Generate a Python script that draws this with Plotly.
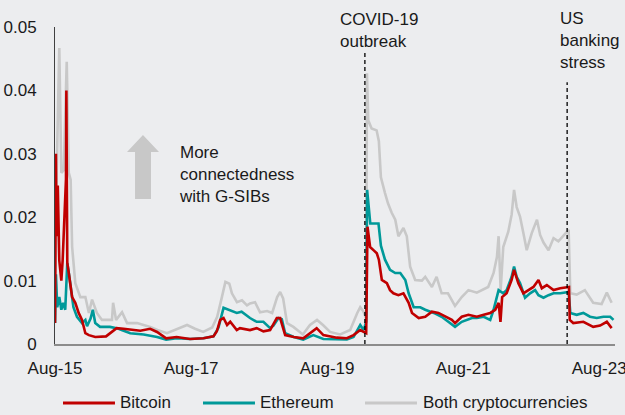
import plotly.graph_objects as go

# ---------------- data ----------------
tick_dates = ["2015-08-01", "2017-08-01", "2019-08-01", "2021-08-01", "2023-08-01"]
tick_labels = ["Aug-15", "Aug-17", "Aug-19", "Aug-21", "Aug-23"]
y_ticks = [0, 0.01, 0.02, 0.03, 0.04, 0.05]
y_tick_labels = ["0", "0.01", "0.02", "0.03", "0.04", "0.05"]

series_names = ["Bitcoin", "Ethereum", "Both cryptocurrencies"]

btc_dates = [
    "2015-08-01", "2015-08-06", "2015-08-09", "2015-08-16", "2015-08-24", "2015-09-04", "2015-09-11",
    "2015-09-22", "2015-09-29", "2015-10-01", "2015-10-06", "2015-10-14", "2015-11-01", "2015-11-18",
    "2015-12-06", "2015-12-24", "2016-01-11", "2016-01-30", "2016-03-04", "2016-05-01", "2016-06-01",
    "2016-06-27", "2016-08-03", "2016-09-26", "2016-11-01", "2016-12-24", "2017-01-30", "2017-03-20",
    "2017-05-15", "2017-07-26", "2017-10-06", "2017-11-29", "2017-12-17", "2018-01-04", "2018-01-22",
    "2018-02-10", "2018-02-27", "2018-04-03", "2018-04-20", "2018-06-13", "2018-07-19", "2018-08-24",
    "2018-09-29", "2018-11-04", "2018-11-22", "2018-12-19", "2019-02-03", "2019-03-26", "2019-05-19",
    "2019-06-06", "2019-07-12", "2019-09-22", "2019-11-15", "2019-12-21", "2020-01-26", "2020-02-27",
    "2020-03-05", "2020-03-19", "2020-04-06", "2020-04-24", "2020-05-05", "2020-05-21", "2020-06-17",
    "2020-07-04", "2020-07-22", "2020-08-18", "2020-09-14", "2020-10-12", "2020-10-30", "2020-12-05",
    "2021-01-09", "2021-02-14", "2021-03-21", "2021-04-26", "2021-06-01", "2021-06-18", "2021-07-24",
    "2021-08-29", "2021-10-13", "2021-11-19", "2021-12-24", "2022-01-20", "2022-02-07", "2022-02-17",
    "2022-02-26", "2022-03-22", "2022-04-18", "2022-05-01", "2022-05-24", "2022-06-20", "2022-07-17",
    "2022-08-13", "2022-09-09", "2022-09-27", "2022-10-24", "2022-11-29", "2023-01-04", "2023-02-20",
    "2023-02-24", "2023-03-15", "2023-05-08", "2023-06-30", "2023-08-06", "2023-09-11", "2023-10-07",
]
btc_vals = [
    0.0033, 0.0300, 0.0170, 0.0250, 0.0132, 0.0100, 0.0132,
    0.0216, 0.0260, 0.0400, 0.0128, 0.0112, 0.0074, 0.0065,
    0.0049, 0.0038, 0.0017, 0.0014, 0.0011, 0.0012, 0.0019,
    0.0025, 0.0024, 0.0022, 0.0021, 0.0024, 0.0019, 0.0009,
    0.0011, 0.0008, 0.0009, 0.0012, 0.0020, 0.0038, 0.0041,
    0.0030, 0.0035, 0.0022, 0.0025, 0.0022, 0.0025, 0.0020,
    0.0022, 0.0041, 0.0041, 0.0014, 0.0011, 0.0009, 0.0020,
    0.0025, 0.0014, 0.0010, 0.0009, 0.0014, 0.0022, 0.0017,
    0.0185, 0.0153, 0.0148, 0.0143, 0.0133, 0.0101, 0.0096,
    0.0085, 0.0080, 0.0077, 0.0080, 0.0065, 0.0049, 0.0041,
    0.0043, 0.0051, 0.0049, 0.0043, 0.0038, 0.0033, 0.0043,
    0.0046, 0.0043, 0.0046, 0.0049, 0.0054, 0.0065, 0.0035,
    0.0074, 0.0080, 0.0101, 0.0117, 0.0096, 0.0080, 0.0085,
    0.0090, 0.0101, 0.0088, 0.0093, 0.0085, 0.0088, 0.0090,
    0.0038, 0.0033, 0.0035, 0.0027, 0.0029, 0.0035, 0.0025,
]

eth_dates = [
    "2015-08-01", "2015-08-06", "2015-08-13", "2015-08-24", "2015-09-04", "2015-09-14", "2015-09-25",
    "2015-10-06", "2015-10-17", "2015-10-27", "2015-11-08", "2015-11-27", "2015-12-24", "2016-01-11",
    "2016-01-20", "2016-02-08", "2016-02-20", "2016-03-04", "2016-03-30", "2016-05-22", "2016-06-27",
    "2016-07-24", "2016-09-08", "2016-11-19", "2017-01-30", "2017-03-20", "2017-05-15", "2017-07-26",
    "2017-10-06", "2017-11-29", "2017-12-26", "2018-01-22", "2018-02-27", "2018-04-03", "2018-04-29",
    "2018-06-13", "2018-07-19", "2018-08-24", "2018-09-29", "2018-10-17", "2018-11-13", "2018-12-01",
    "2018-12-19", "2019-02-03", "2019-03-26", "2019-05-19", "2019-07-12", "2019-09-22", "2019-11-15",
    "2019-12-21", "2020-01-26", "2020-02-13", "2020-02-27", "2020-03-03", "2020-03-20", "2020-04-06",
    "2020-05-03", "2020-05-16", "2020-06-07", "2020-07-04", "2020-08-01", "2020-08-28", "2020-09-24",
    "2020-10-12", "2020-11-08", "2020-12-13", "2021-01-09", "2021-02-24", "2021-04-07", "2021-05-13",
    "2021-06-18", "2021-07-24", "2021-09-17", "2021-10-13", "2021-11-19", "2021-12-24", "2022-01-11",
    "2022-02-07", "2022-03-04", "2022-03-22", "2022-04-18", "2022-05-01", "2022-05-15", "2022-06-02",
    "2022-06-29", "2022-07-26", "2022-08-22", "2022-09-09", "2022-10-06", "2022-11-02", "2022-11-29",
    "2023-01-04", "2023-02-18", "2023-02-27", "2023-04-02", "2023-05-08", "2023-06-13", "2023-07-19",
    "2023-08-24", "2023-09-29", "2023-10-17",
]
eth_vals = [
    0.0033, 0.0110, 0.0058, 0.0074, 0.0054, 0.0065, 0.0054,
    0.0128, 0.0106, 0.0080, 0.0058, 0.0043, 0.0033, 0.0038,
    0.0028, 0.0040, 0.0054, 0.0033, 0.0027, 0.0027, 0.0025,
    0.0022, 0.0017, 0.0015, 0.0011, 0.0007, 0.0009, 0.0008,
    0.0009, 0.0012, 0.0026, 0.0057, 0.0053, 0.0049, 0.0051,
    0.0041, 0.0035, 0.0035, 0.0025, 0.0029, 0.0041, 0.0039,
    0.0017, 0.0011, 0.0007, 0.0014, 0.0008, 0.0007, 0.0007,
    0.0011, 0.0030, 0.0022, 0.0035, 0.0243, 0.0190, 0.0190,
    0.0190, 0.0155, 0.0133, 0.0117, 0.0112, 0.0112, 0.0101,
    0.0080, 0.0058, 0.0058, 0.0054, 0.0049, 0.0043, 0.0035,
    0.0027, 0.0035, 0.0041, 0.0041, 0.0043, 0.0038, 0.0054,
    0.0085, 0.0080, 0.0085, 0.0106, 0.0122, 0.0106, 0.0096,
    0.0073, 0.0080, 0.0085, 0.0077, 0.0073, 0.0077, 0.0080,
    0.0080, 0.0082, 0.0049, 0.0046, 0.0049, 0.0043, 0.0041,
    0.0043, 0.0043, 0.0038,
]

both_dates = [
    "2015-08-01", "2015-08-10", "2015-08-24", "2015-09-04", "2015-09-17", "2015-10-03", "2015-10-14",
    "2015-10-24", "2015-11-01", "2015-11-18", "2015-12-15", "2016-01-11", "2016-01-30", "2016-02-16",
    "2016-03-13", "2016-04-09", "2016-06-02", "2016-06-08", "2016-06-24", "2016-07-26", "2016-08-22",
    "2016-10-15", "2016-12-24", "2017-02-01", "2017-03-24", "2017-05-17", "2017-07-10", "2017-08-22",
    "2017-10-05", "2017-11-22", "2017-12-19", "2018-01-10", "2018-02-01", "2018-02-22", "2018-03-08",
    "2018-04-04", "2018-05-01", "2018-05-28", "2018-06-13", "2018-07-10", "2018-08-06", "2018-09-13",
    "2018-10-10", "2018-11-06", "2018-11-22", "2018-12-08", "2018-12-29", "2019-02-01", "2019-03-24",
    "2019-05-01", "2019-06-08", "2019-07-10", "2019-08-17", "2019-10-10", "2019-12-03", "2020-01-10",
    "2020-01-26", "2020-02-11", "2020-02-27", "2020-03-02", "2020-03-09", "2020-03-27", "2020-04-23",
    "2020-05-05", "2020-05-16", "2020-06-07", "2020-06-23", "2020-07-13", "2020-08-01", "2020-08-18",
    "2020-09-14", "2020-10-02", "2020-10-20", "2020-11-16", "2020-12-22", "2021-01-09", "2021-02-14",
    "2021-03-11", "2021-04-07", "2021-05-11", "2021-06-18", "2021-07-24", "2021-08-29", "2021-10-13",
    "2021-11-27", "2021-12-13", "2022-01-11", "2022-01-29", "2022-02-07", "2022-02-18", "2022-03-04",
    "2022-03-31", "2022-04-18", "2022-05-01", "2022-05-15", "2022-06-02", "2022-06-20", "2022-07-08",
    "2022-08-04", "2022-09-01", "2022-09-18", "2022-10-06", "2022-11-02", "2022-11-29", "2022-12-25",
    "2023-02-01", "2023-02-18", "2023-02-27", "2023-04-02", "2023-05-16", "2023-06-30", "2023-08-14",
    "2023-09-11", "2023-10-07",
]
both_vals = [
    0.0033, 0.0270, 0.0467, 0.0270, 0.0274, 0.0445, 0.0270,
    0.0259, 0.0153, 0.0096, 0.0074, 0.0074, 0.0049, 0.0070,
    0.0049, 0.0038, 0.0038, 0.0065, 0.0038, 0.0050, 0.0033,
    0.0033, 0.0027, 0.0022, 0.0017, 0.0023, 0.0030, 0.0024,
    0.0019, 0.0026, 0.0043, 0.0070, 0.0098, 0.0095, 0.0080,
    0.0066, 0.0069, 0.0061, 0.0064, 0.0066, 0.0050, 0.0052,
    0.0049, 0.0074, 0.0082, 0.0072, 0.0033, 0.0027, 0.0015,
    0.0030, 0.0038, 0.0030, 0.0019, 0.0015, 0.0022, 0.0049,
    0.0058, 0.0052, 0.0040, 0.0427, 0.0353, 0.0340, 0.0337,
    0.0320, 0.0263, 0.0238, 0.0222, 0.0207, 0.0196, 0.0170,
    0.0183, 0.0170, 0.0122, 0.0101, 0.0100, 0.0106, 0.0090,
    0.0106, 0.0080, 0.0080, 0.0060, 0.0074, 0.0085, 0.0081,
    0.0088, 0.0090, 0.0112, 0.0137, 0.0170, 0.0085, 0.0153,
    0.0177, 0.0204, 0.0243, 0.0216, 0.0201, 0.0175, 0.0148,
    0.0175, 0.0196, 0.0172, 0.0160, 0.0148, 0.0167, 0.0162,
    0.0175, 0.0180, 0.0080, 0.0078, 0.0085, 0.0065, 0.0063,
    0.0081, 0.0065,
]

event_dates = ["2020-02-20", "2023-02-10"]
event_tops = [0.046, 0.0413]
event_labels = ["COVID-19<br>outbreak", "US<br>banking<br>stress"]
arrow_label = "More<br>connectedness<br>with G-SIBs"

# ---------------- styling ----------------
RED = "#C00000"
TEAL = "#009999"
GREY = "#C8C8C8"
BG = "#ECEDEF"
TXT = "#1a1a1a"
FONT = "Liberation Sans, Arial, sans-serif"
FS = 17

fig = go.Figure()
fig.add_trace(go.Scatter(x=both_dates, y=both_vals, mode="lines", name=series_names[2],
                         line=dict(color=GREY, width=2.6), showlegend=False))
fig.add_trace(go.Scatter(x=eth_dates, y=eth_vals, mode="lines", name=series_names[1],
                         line=dict(color=TEAL, width=2.6), showlegend=False))
fig.add_trace(go.Scatter(x=btc_dates, y=btc_vals, mode="lines", name=series_names[0],
                         line=dict(color=RED, width=2.6), showlegend=False))

shapes = []
for d, top in zip(event_dates, event_tops):
    shapes.append(dict(type="line", xref="x", yref="y", x0=d, x1=d, y0=0, y1=top,
                       line=dict(color="black", width=1.3, dash="4px,3px")))

# block arrow (paper coords)
shapes.append(dict(
    type="path", xref="paper", yref="paper",
    path="M 0.1429,0.4574 L 0.1429,0.6057 L 0.1286,0.6057 L 0.1571,0.6593 "
         "L 0.1857,0.6057 L 0.1714,0.6057 L 0.1714,0.4574 Z",
    fillcolor=GREY, line=dict(width=0)))

annotations = [
    dict(text=event_labels[0], xref="paper", yref="paper", x=0.506, y=0.989,
         xanchor="left", yanchor="middle", align="left", showarrow=False,
         font=dict(family=FONT, size=FS, color=TXT)),
    dict(text=event_labels[1], xref="paper", yref="paper", x=0.899, y=0.956,
         xanchor="left", yanchor="middle", align="left", showarrow=False,
         font=dict(family=FONT, size=FS, color=TXT)),
    dict(text=arrow_label, xref="paper", yref="paper", x=0.218, y=0.536,
         xanchor="left", yanchor="middle", align="left", showarrow=False,
         font=dict(family=FONT, size=FS, color=TXT)),
]

# manual legend
leg_y = -0.186
leg_items = [(series_names[0], RED, 0.0143, 0.1071, 0.113),
             (series_names[1], TEAL, 0.2643, 0.3571, 0.363),
             (series_names[2], GREY, 0.5536, 0.6464, 0.654)]
for name, col, xa, xb, xt in leg_items:
    shapes.append(dict(type="line", xref="paper", yref="paper", x0=xa, x1=xb, y0=leg_y, y1=leg_y,
                       line=dict(color=col, width=3)))
    annotations.append(dict(text=name, xref="paper", yref="paper", x=xt, y=leg_y,
                            xanchor="left", yanchor="middle", showarrow=False,
                            font=dict(family=FONT, size=FS, color=TXT)))

fig.update_layout(
    width=625, height=415, autosize=False,
    margin=dict(l=55, r=10, t=27, b=71, autoexpand=False),
    paper_bgcolor=BG, plot_bgcolor=BG,
    font=dict(family=FONT, size=FS, color=TXT),
    shapes=shapes, annotations=annotations,
    showlegend=False,
)
fig.update_xaxes(type="date", range=["2015-08-01", "2023-10-25"],
                 tickvals=tick_dates, ticktext=tick_labels, automargin=False,
                 ticklabeloverflow="allow",
                 showgrid=False, zeroline=False, showline=True,
                 linecolor="#8c8c8c", linewidth=2, ticks="", ticklabelstandoff=8,
                 tickfont=dict(family=FONT, size=FS, color=TXT))
fig.update_yaxes(range=[0, 0.05], tickvals=y_ticks, ticktext=y_tick_labels, automargin=False,
                 ticklabeloverflow="allow",
                 showgrid=False, zeroline=False, showline=True,
                 linecolor="#404040", linewidth=1, ticks="", ticklabelstandoff=14,
                 tickfont=dict(family=FONT, size=FS, color=TXT))

fig.write_html(
    "out.html",
    config={"displayModeBar": False, "staticPlot": True},
    post_script="document.body.style.margin='0';document.body.style.padding='0';"
                "document.body.style.overflow='hidden';document.body.style.background='" + BG + "';",
)
